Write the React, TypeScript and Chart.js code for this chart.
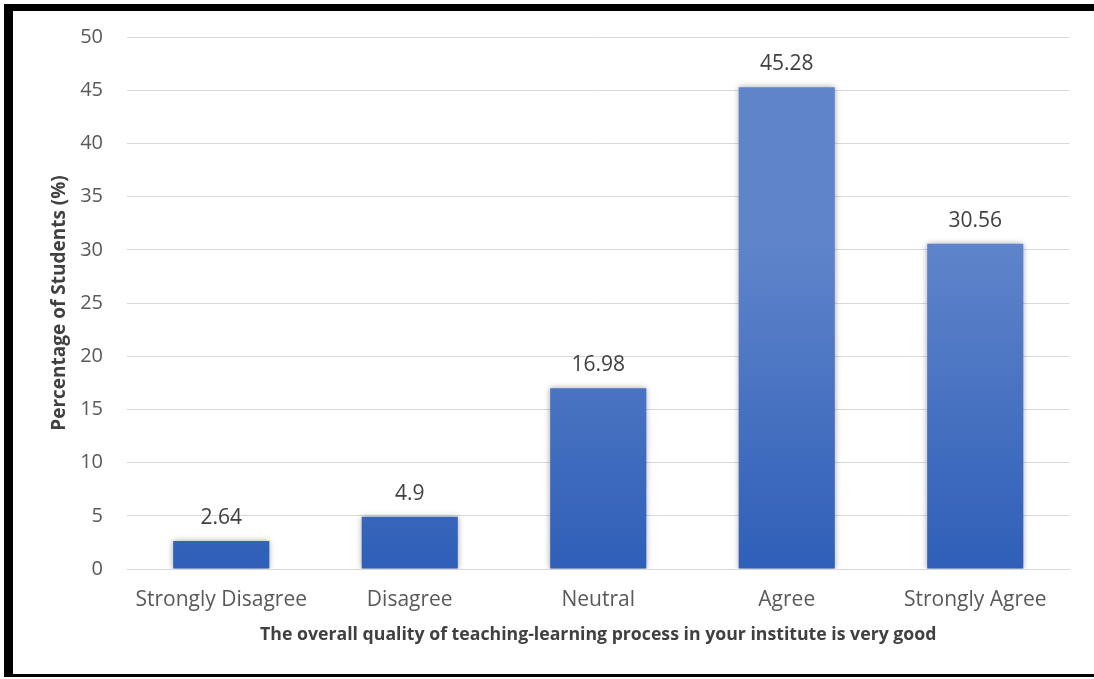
import React, { useEffect, useRef } from "react";
import { Chart, registerables } from "chart.js";

Chart.register(...registerables);

const categories = ["Strongly Disagree", "Disagree", "Neutral", "Agree", "Strongly Agree"];
const percentages = [2.64, 4.9, 16.98, 45.28, 30.56];
const valueLabels = ["2.64", "4.9", "16.98", "45.28", "30.56"];
const yTitle = "Percentage of Students (%)";
const xTitle = "The overall quality of teaching-learning process in your institute is very good";

const FONT = "'Open Sans', 'Noto Sans', sans-serif";

const barStylePlugin = {
  id: "barStyle",
  beforeDatasetsDraw(chart: any) {
    const ctx = chart.ctx;
    const meta = chart.getDatasetMeta(0);
    meta.data.forEach((el: any) => {
      const g = ctx.createLinearGradient(0, el.y, 0, el.base);
      g.addColorStop(0, "#5F84CA");
      g.addColorStop(1, "#2F5FB8");
      el.options.backgroundColor = g;
    });
    ctx.save();
    ctx.shadowColor = "rgba(0,0,0,0.35)";
    ctx.shadowBlur = 6;
    ctx.shadowOffsetX = 0;
    ctx.shadowOffsetY = 0;
  },
  afterDatasetsDraw(chart: any) {
    const ctx = chart.ctx;
    ctx.restore();
    const meta = chart.getDatasetMeta(0);
    ctx.save();
    ctx.font = `21px ${FONT}`;
    ctx.fillStyle = "#404040";
    ctx.textAlign = "center";
    ctx.textBaseline = "alphabetic";
    meta.data.forEach((el: any, i: number) => {
      ctx.fillText(valueLabels[i], el.x, el.y - 17);
    });
    ctx.restore();
  },
};

export default function App() {
  const ref = useRef<HTMLCanvasElement | null>(null);
  useEffect(() => {
    document.body.style.margin = "0";
    const chart = new Chart(ref.current as HTMLCanvasElement, {
      type: "bar",
      data: {
        labels: categories,
        datasets: [
          {
            data: percentages,
            backgroundColor: "#4472C4",
            borderWidth: 0,
            categoryPercentage: 1,
            barPercentage: 0.51,
          },
        ],
      },
      plugins: [barStylePlugin],
      options: {
        responsive: false,
        animation: false,
        layout: { padding: { left: 13, right: 24.5, top: 37, bottom: 0 } },
        plugins: { legend: { display: false }, tooltip: { enabled: false } },
        scales: {
          x: {
            grid: { display: false, drawTicks: false },
            border: { display: true, color: "#D9D9D9", width: 1 },
            ticks: { color: "#595959", font: { family: FONT, size: 21 }, padding: 18, maxRotation: 0 },
            title: {
              display: true,
              text: xTitle,
              color: "#404040",
              font: { family: FONT, size: 17.7, weight: "bold" },
              padding: { top: 0, bottom: 33 },
            },
            afterFit(scale: any) {
              scale.height = 110;
            },
          },
          y: {
            min: 0,
            max: 50,
            ticks: { stepSize: 5, color: "#595959", font: { family: FONT, size: 20 }, padding: 24 },
            grid: { color: "#D9D9D9", lineWidth: 1, drawTicks: false },
            border: { display: false },
            title: {
              display: true,
              text: yTitle,
              color: "#404040",
              font: { family: FONT, size: 19, weight: "bold" },
              padding: { top: 35, bottom: 0 },
            },
            afterFit(scale: any) {
              scale.width = 114;
            },
          },
        },
      },
    } as any);
    return () => chart.destroy();
  }, []);
  return (
    <div style={{ position: "relative", width: 1094, height: 679, overflow: "hidden", background: "#fff" }}>
      <canvas ref={ref} width={1094} height={679} style={{ display: "block" }} />
      <div
        style={{
          position: "absolute",
          left: 4,
          top: 4,
          width: 1200,
          height: 673,
          boxSizing: "border-box",
          borderLeft: "9px solid #000",
          borderTop: "7px solid #000",
          borderBottom: "3px solid #000",
          pointerEvents: "none",
        }}
      />
    </div>
  );
}
